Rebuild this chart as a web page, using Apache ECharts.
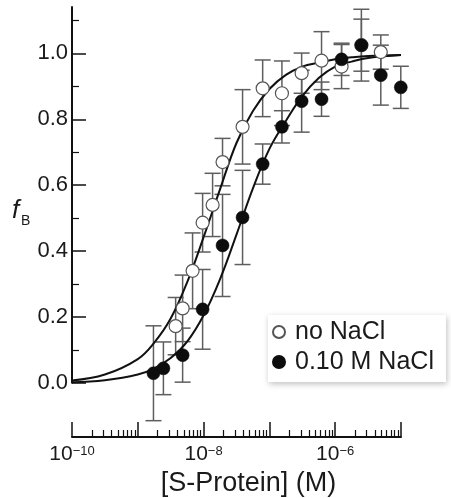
<!DOCTYPE html>
<html>
<head>
<meta charset="utf-8">
<script src="https://cdn.jsdelivr.net/npm/echarts@6/dist/echarts.min.js"></script>
<style>html,body{margin:0;padding:0;background:#fff}#c{width:451px;height:498px}</style>
</head>
<body>
<div id="c"></div>
<script>
// ---- data ----
var noNaClConc = [3.76e-9, 4.8e-9, 6.8e-9, 9.66e-9, 1.37e-8, 1.94e-8, 3.91e-8, 7.9e-8, 1.55e-7, 3.09e-7, 6.2e-7, 1.25e-6, 2.5e-6, 4.93e-6];
var noNaClFB   = [0.172, 0.226, 0.340, 0.486, 0.540, 0.670, 0.777, 0.894, 0.879, 0.940, 0.978, 0.960, 1.025, 1.004];
var noNaClErr  = [0.087, 0.101, 0.115, 0.089, 0.096, 0.072, 0.113, 0.086, 0.098, 0.061, 0.088, 0.067, 0.079, 0.052];

var saltConc = [1.73e-9, 2.45e-9, 4.8e-9, 9.66e-9, 1.94e-8, 3.91e-8, 7.9e-8, 1.55e-7, 3.09e-7, 6.2e-7, 1.25e-6, 2.5e-6, 4.93e-6, 9.93e-6];
var saltFB   = [0.029, 0.044, 0.084, 0.223, 0.417, 0.502, 0.664, 0.777, 0.855, 0.861, 0.982, 1.025, 0.934, 0.897];
var saltErr  = [0.144, 0.080, 0.082, 0.121, 0.155, 0.143, 0.061, 0.049, 0.094, 0.052, 0.049, 0.109, 0.091, 0.064];

var fitConc   = [1e-10, 3.16e-10, 1e-9, 1.78e-9, 3.16e-9, 5.62e-9, 1e-8, 1.78e-8, 3.16e-8, 5.62e-8, 1e-7, 1.78e-7, 3.16e-7, 5.62e-7, 1e-6, 1.78e-6, 3.16e-6, 1e-5];
var noNaClFit = [0.007, 0.025, 0.072, 0.122, 0.195, 0.305, 0.442, 0.588, 0.728, 0.825, 0.892, 0.935, 0.960, 0.972, 0.982, 0.988, 0.992, 0.995];
var saltFit   = [0.002, 0.008, 0.025, 0.044, 0.075, 0.125, 0.205, 0.315, 0.450, 0.590, 0.710, 0.795, 0.870, 0.925, 0.960, 0.975, 0.986, 0.995];

var xMajorExp = [-10, -9, -8, -7, -6, -5];
var xLabelExp = [-10, -8, -6];
var yMajor = [0, 0.2, 0.4, 0.6, 0.8, 1.0];
var yMinor = [0.1, 0.3, 0.5, 0.7, 0.9, 1.1];
var seriesNames = ['no NaCl', '0.10 M NaCl'];
var xTitle = '[S-Protein] (M)';

// ---- helpers ----
var FONT = 'Liberation Sans, Arial, Helvetica, sans-serif';
var TXT = '#1a1a1a';
var xMinorExp = [];
for (var d = -10; d < -5; d++) {
  for (var k = 2; k <= 9; k++) xMinorExp.push(d + Math.log10(k));
}
function zip(xs, ys) { return xs.map(function (x, i) { return [x, ys[i]]; }); }
function errData(xs, ys, es) { return xs.map(function (x, i) { return [x, ys[i] - es[i], ys[i] + es[i]]; }); }
function renderErr(params, api) {
  var x = api.value(0);
  var top = api.coord([x, api.value(2)]);
  var bot = api.coord([x, api.value(1)]);
  var w = 8;
  var st = { stroke: '#5e5e5e', lineWidth: 1.5 };
  return { type: 'group', children: [
    { type: 'line', shape: { x1: top[0], y1: top[1], x2: bot[0], y2: bot[1] }, style: st },
    { type: 'line', shape: { x1: top[0] - w, y1: top[1], x2: top[0] + w, y2: top[1] }, style: st },
    { type: 'line', shape: { x1: bot[0] - w, y1: bot[1], x2: bot[0] + w, y2: bot[1] }, style: st }
  ]};
}

var Y0 = 382.8, PPU = 329.4, TOP = 7, XAX = 437;
var chart = echarts.init(document.getElementById('c'), null, { renderer: 'canvas' });
chart.setOption({
  animation: false,
  backgroundColor: '#fff',
  textStyle: { fontFamily: FONT },
  grid: [
    { left: 72, width: 329, top: TOP, height: XAX - TOP, containLabel: false, outerBoundsMode: 'none' },
    { left: 72, width: 329, top: TOP, height: Y0 - TOP, containLabel: false, outerBoundsMode: 'none' }
  ],
  xAxis: [
    { type: 'log', gridIndex: 0, min: 1e-10, max: 1e-5, show: false },
    { type: 'value', gridIndex: 0, min: -10, max: -5, position: 'bottom', offset: 0,
      axisLine: { show: true, onZero: false, lineStyle: { color: '#111', width: 2 } },
      axisTick: { show: true, inside: true, length: 15, customValues: xMajorExp, lineStyle: { color: '#111', width: 1.5 } },
      splitLine: { show: false },
      axisLabel: { show: true, customValues: xLabelExp, margin: 7, color: TXT, fontFamily: FONT,
        formatter: function (v) { return '{n|10}{s|\u2212' + (-Math.round(v)) + '}'; },
        rich: { n: { fontSize: 21, fontFamily: FONT, color: TXT }, s: { fontSize: 13, fontFamily: FONT, color: TXT, padding: [0, 0, 7, 0] } } },
      name: xTitle, nameLocation: 'middle', nameGap: 23,
      nameTextStyle: { fontSize: 27, color: TXT, fontFamily: FONT, padding: [0, 0, 0, 24] }
    },
    { type: 'value', gridIndex: 0, min: -10, max: -5, position: 'bottom', offset: 0,
      axisLine: { show: false, onZero: false },
      axisTick: { show: true, inside: true, length: 7, customValues: xMinorExp, lineStyle: { color: '#111', width: 1.2 } },
      axisLabel: { show: false }, splitLine: { show: false } },
    { type: 'value', gridIndex: 1, min: 0, max: 1, show: false }
  ],
  yAxis: [
    { type: 'value', gridIndex: 0, min: -(XAX - Y0) / PPU, max: (Y0 - TOP) / PPU, show: false },
    { type: 'value', gridIndex: 1, min: 0, max: (Y0 - TOP) / PPU, position: 'left', offset: 0,
      axisLine: { show: true, onZero: false, lineStyle: { color: '#111', width: 2 } },
      axisTick: { show: true, inside: true, length: 14, customValues: yMajor, lineStyle: { color: '#111', width: 1.5 } },
      axisLabel: { show: true, customValues: yMajor, margin: 4, fontSize: 22, color: TXT, fontFamily: FONT,
        formatter: function (v) { return v.toFixed(1); } },
      splitLine: { show: false } },
    { type: 'value', gridIndex: 1, min: 0, max: (Y0 - TOP) / PPU, position: 'left', offset: 0,
      axisLine: { show: false, onZero: false },
      axisTick: { show: true, inside: true, length: 7, customValues: yMinor, lineStyle: { color: '#111', width: 1.2 } },
      axisLabel: { show: false }, splitLine: { show: false } }
  ],
  legend: {
    data: seriesNames, orient: 'vertical', left: 268, top: 315,
    icon: 'circle', itemWidth: 22, itemHeight: 12, itemGap: 4,
    padding: [4, 12, 7, 4],
    backgroundColor: '#fff', shadowBlur: 6, shadowColor: 'rgba(0,0,0,0.25)', shadowOffsetX: 1, shadowOffsetY: 2,
    textStyle: { fontSize: 25, color: TXT, fontFamily: FONT, lineHeight: 26 }
  },
  graphic: [
    { type: 'text', left: 12, top: 198, style: { text: 'f', font: 'italic 26px ' + FONT, fill: TXT } },
    { type: 'text', left: 21, top: 214, style: { text: 'B', font: '14px ' + FONT, fill: TXT } }
  ],
  series: [
    { type: 'custom', name: 'err1', xAxisIndex: 0, yAxisIndex: 0, renderItem: renderErr, z: 2,
      encode: { x: 0, y: [1, 2] }, data: errData(noNaClConc, noNaClFB, noNaClErr) },
    { type: 'custom', name: 'err2', xAxisIndex: 0, yAxisIndex: 0, renderItem: renderErr, z: 2,
      encode: { x: 0, y: [1, 2] }, data: errData(saltConc, saltFB, saltErr) },
    { type: 'line', name: 'fit1', xAxisIndex: 0, yAxisIndex: 0, showSymbol: false, symbol: 'none', smooth: 0.4, z: 3,
      lineStyle: { color: '#111', width: 2 }, data: zip(fitConc, noNaClFit) },
    { type: 'line', name: 'fit2', xAxisIndex: 0, yAxisIndex: 0, showSymbol: false, symbol: 'none', smooth: 0.4, z: 3,
      lineStyle: { color: '#111', width: 2 }, data: zip(fitConc, saltFit) },
    { type: 'scatter', name: seriesNames[0], xAxisIndex: 0, yAxisIndex: 0, symbol: 'circle', symbolSize: 13, z: 4,
      itemStyle: { color: '#fff', borderColor: '#555', borderWidth: 1.2, opacity: 1 }, data: zip(noNaClConc, noNaClFB) },
    { type: 'scatter', name: seriesNames[1], xAxisIndex: 0, yAxisIndex: 0, symbol: 'circle', symbolSize: 13, z: 5,
      itemStyle: { color: '#0d0d0d', borderColor: '#0d0d0d', borderWidth: 0.5, opacity: 1 }, data: zip(saltConc, saltFB) }
  ]
});
</script>
</body>
</html>
